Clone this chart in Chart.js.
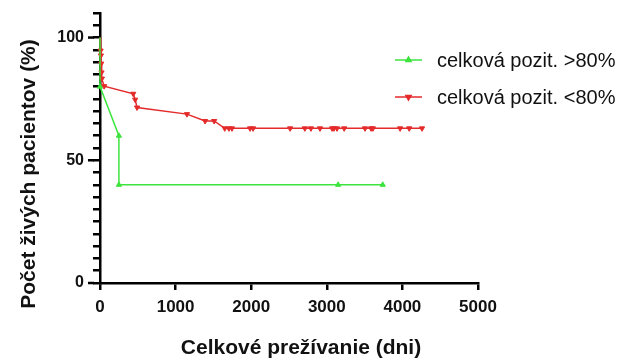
<!DOCTYPE html>
<html>
<head>
<meta charset="utf-8">
<script src="https://cdn.jsdelivr.net/npm/chart.js@4"></script>
<style>
  html, body { margin: 0; padding: 0; background: #fff; }
</style>
</head>
<body>
<canvas id="chart" width="620" height="361"></canvas>
<script>
const seriesNames = ["celková pozit. >80%", "celková pozit. <80%"];
const seriesColors = ["#3ee43e", "#e42a2a"];

// group > 80 %
const greenDays = [0, 0, 250, 250, 3150, 3740];
const greenPct  = [100, 80, 60, 40, 40, 40];

// group < 80 %
const redDays = [0, 8, 12, 16, 20, 25, 55, 440, 465, 490, 1150, 1390, 1510, 1650, 1705, 1745,
                 1985, 2025, 2515, 2710, 2790, 2910, 3070, 3095, 3135, 3230, 3505, 3585, 3610,
                 3970, 4090, 4260];
const redPct  = [100, 94.7, 92.7, 89.4, 85.8, 83.3, 80.2, 77.1, 74.7, 71.5, 68.8, 66, 66, 63, 63, 63,
                 63, 63, 63, 63, 63, 63, 63, 63, 63, 63, 63, 63, 63,
                 63, 63, 63];

const xTickStep = 1000;
const yLabels = [0, 50, 100];

const FONT = "'Liberation Sans', Arial, sans-serif";

function pts(xs, ys) {
  return xs.map((x, i) => ({ x, y: ys[i] }));
}

const decor = {
  id: "decor",
  afterDraw(chart) {
    const { ctx, chartArea } = chart;
    const ys = chart.scales.y;
    ctx.save();

    // longer ticks for labelled values
    ctx.strokeStyle = "#000";
    ctx.lineWidth = 2.5;
    yLabels.forEach(v => {
      const y = ys.getPixelForValue(v);
      ctx.beginPath();
      ctx.moveTo(chartArea.left - 12, y);
      ctx.lineTo(chartArea.left - 6, y);
      ctx.stroke();
    });

    // legend
    ctx.font = `20px ${FONT}`;
    ctx.textBaseline = "middle";
    ctx.textAlign = "left";
    seriesNames.forEach((name, i) => {
      const y = 60 + i * 37;
      ctx.strokeStyle = seriesColors[i];
      ctx.lineWidth = 1.5;
      ctx.beginPath();
      ctx.moveTo(395, y);
      ctx.lineTo(422, y);
      ctx.stroke();
      ctx.fillStyle = seriesColors[i];
      Chart.helpers.drawPoint(ctx, { pointStyle: "triangle", radius: 3, rotation: i ? 180 : 0, borderWidth: 1 }, 408.5, y);
      ctx.fillStyle = "#111";
      ctx.fillText(name, 437, y + 1);
    });

    // axis titles
    ctx.fillStyle = "#111";
    ctx.font = `bold 21px ${FONT}`;
    ctx.textAlign = "center";
    ctx.save();
    ctx.translate(29, 174);
    ctx.rotate(-Math.PI / 2);
    ctx.fillText("Počet živých pacientov (%)", 0, 0);
    ctx.restore();

    ctx.font = `bold 21px ${FONT}`;
    ctx.fillText("Celkové prežívanie (dni)", 301, 348);
    ctx.restore();
  }
};

new Chart(document.getElementById("chart"), {
  type: "line",
  data: {
    datasets: [
      {
        label: seriesNames[0],
        data: pts(greenDays, greenPct),
        borderColor: seriesColors[0],
        backgroundColor: seriesColors[0],
        borderWidth: 1.5,
        pointStyle: "triangle",
        pointRadius: ctx => ctx.dataIndex === 0 ? 0 : 3,
        pointBorderWidth: 1,
        tension: 0,
        clip: false
      },
      {
        label: seriesNames[1],
        data: pts(redDays, redPct),
        borderColor: seriesColors[1],
        backgroundColor: seriesColors[1],
        borderWidth: 1.5,
        pointStyle: "triangle",
        pointRotation: 180,
        pointRadius: ctx => ctx.dataIndex === 0 ? 0 : 3,
        pointBorderWidth: 1,
        tension: 0,
        clip: false
      }
    ]
  },
  options: {
    responsive: false,
    animation: false,
    devicePixelRatio: 1,
    layout: { padding: { top: 13, right: 142, bottom: 0, left: 0 } },
    plugins: { legend: { display: false }, tooltip: { enabled: false } },
    scales: {
      x: {
        type: "linear",
        min: 0,
        max: 5000,
        ticks: {
          stepSize: xTickStep,
          color: "#111",
          padding: 7,
          font: { family: FONT, size: 17, weight: "bold" },
          callback: v => String(v)
        },
        grid: { drawOnChartArea: false, tickLength: 7, color: "#000", lineWidth: 2.5 },
        border: { color: "#000", width: 2.5 },
        afterFit: s => { s.height = 78; }
      },
      y: {
        min: 0,
        max: 110,
        ticks: {
          stepSize: 5,
          autoSkip: false,
          color: "#111",
          padding: 9,
          font: { family: FONT, size: 16, weight: "bold" },
          callback: v => yLabels.includes(v) ? v : ""
        },
        grid: { drawOnChartArea: false, tickLength: 7, color: "#000", lineWidth: 2.5 },
        border: { color: "#000", width: 2.5 },
        afterFit: s => { s.width = 100; s.paddingTop = 0; s.paddingBottom = 0; }
      }
    }
  },
  plugins: [decor]
});
</script>
</body>
</html>
